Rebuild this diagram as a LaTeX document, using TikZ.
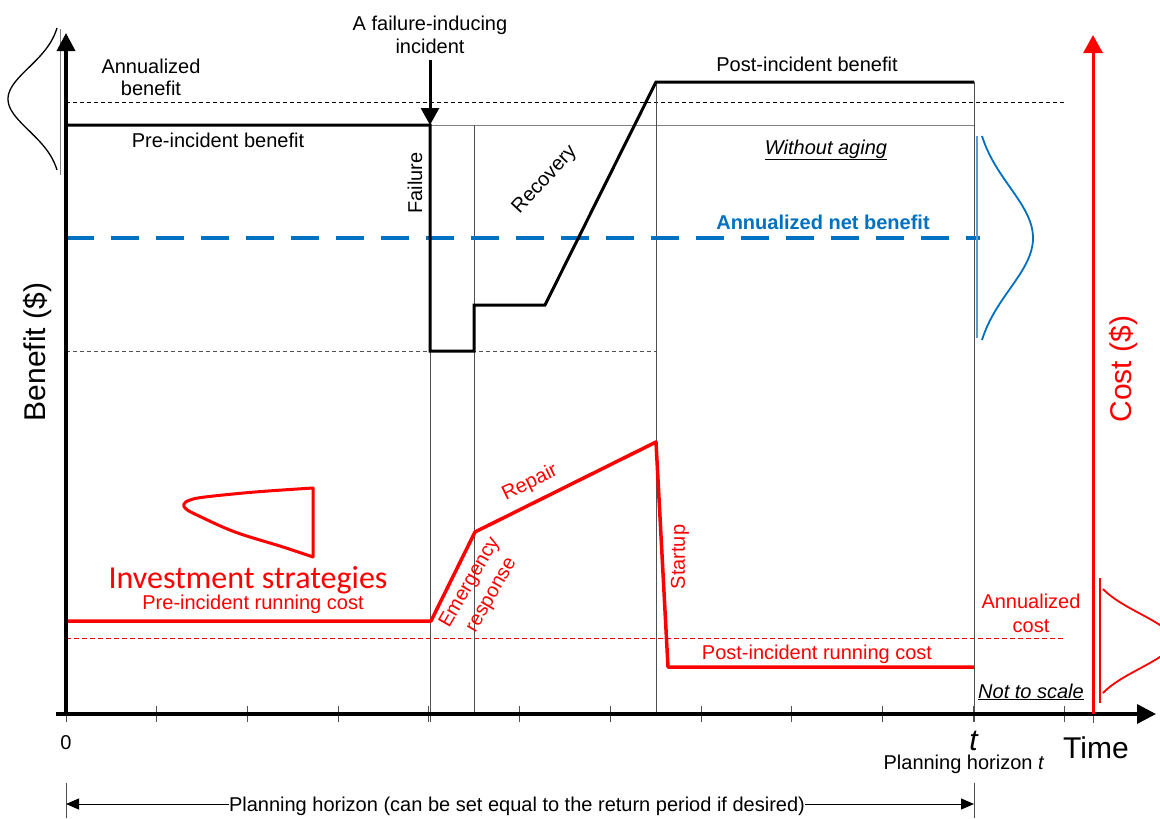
\documentclass[tikz,border=0pt]{standalone}
\usepackage{fontspec}
\setmainfont{Liberation Sans}
\newfontfamily\calibrifont{Carlito}
\usetikzlibrary{arrows.meta}
\definecolor{netblue}{HTML}{0070C0}
\definecolor{paleblue}{HTML}{5B9BD5}
\definecolor{guidegray}{HTML}{505050}

\begin{document}
\begin{tikzpicture}[x=1pt,y=-1pt,
  lbl/.style={font=\fontsize{20}{23}\selectfont, inner sep=0pt, align=center},
  big/.style={font=\fontsize{30}{34}\selectfont, inner sep=0pt},
  guide/.style={line width=0.9pt, draw=guidegray},
  tickmark/.style={line width=1pt, draw=guidegray},
  benefitline/.style={line width=3pt, line join=miter},
  costline/.style={line width=3.5pt, draw=red, line join=round},
  axisline/.style={line width=3.5pt},
  bigtip/.style={-{Triangle[length=18pt,width=18pt]}},
]
\useasboundingbox (0,0) rectangle (1160,819);
\clip (0,0) rectangle (1160,819);

% ---------- reference levels ----------
\draw[line width=0.8pt, dash pattern=on 4pt off 3pt] (66,102) -- (1065,102);
\draw[line width=0.8pt, draw=guidegray, dash pattern=on 4pt off 3pt] (66,351) -- (656,351);
\draw[line width=0.9pt, draw=red, dash pattern=on 5pt off 3pt] (66,638) -- (1065,638);
\draw[line width=1pt, draw=gray] (430,125) -- (974,125);

% ---------- phase boundaries ----------
\draw[guide] (430,125) -- (430,722);
\draw[guide] (474,125) -- (474,714);
\draw[guide] (656,82) -- (656,714);
\draw[guide] (974,82) -- (974,722);

% ---------- ticks on the time axis ----------
\foreach \k in {0,...,11}
  \draw[tickmark] ({66+90.73*\k},706) -- ({66+90.73*\k},722);
\draw[tickmark] (1093,706) -- (1093,723);

% ---------- annualized net benefit ----------
\draw[netblue, line width=3.5pt, dash pattern=on 28pt off 17pt] (66,238) -- (980,238);

% ---------- benefit path ----------
\coordinate (b0) at (66,125);
\coordinate (bfail) at (430,125);
\coordinate (blow) at (430,351);
\coordinate (bemr) at (474,351);
\coordinate (bstep) at (474,305);
\coordinate (bflat) at (545,305);
\coordinate (bpeak) at (656,82);
\coordinate (bend) at (974,82);
\draw[benefitline] (b0) -- (bfail) -- (blow) -- (bemr) -- (bstep) -- (bflat) -- (bpeak) -- (bend);

% ---------- cost path ----------
\coordinate (c0) at (66,621);
\coordinate (cfail) at (431,621);
\coordinate (cemr) at (475,532);
\coordinate (cpeak) at (656,442);
\coordinate (cstart) at (668,667);
\coordinate (cend) at (974,667);
\draw[costline] (c0) -- (cfail) -- (cemr) -- (cpeak) -- (cstart) -- (cend);

% ---------- distributions ----------
% benefit distribution at the left axis
\draw[line width=1pt, draw=gray] (60,29) -- (60,175);
\draw[line width=1.3pt] plot[domain=-71:71, samples=70, smooth]
  ({57-49*(exp(-(\x*\x)/2000)-0.08)/0.92}, {99+\x});
% net benefit distribution
\draw[line width=1.5pt, draw=paleblue] (977,136) -- (977,338);
\draw[line width=1.8pt, draw=netblue] plot[domain=-102:102, samples=80, smooth]
  ({982+51*(exp(-(\x*\x)/5200)-0.135)/0.865}, {238+\x});
% cost distribution
\draw[line width=1.2pt, draw=red] (1100,578) -- (1100,703);
\draw[line width=1.8pt, draw=red] plot[domain=-52:52, samples=60, smooth]
  ({1103+70*(exp(-(\x*\x)/1500)-0.165)/0.835}, {641+\x});
% investment strategy distribution
\draw[line width=3pt, draw=red, line join=round]
  plot[smooth, tension=0.6] coordinates {(313,557) (283,547) (235,532) (199,516) (186,509) (184,504) (190,500) (205,497) (255,492) (313,488)} -- cycle;

% ---------- axes ----------
\coordinate (origin) at (66,714);
\coordinate (ytop) at (66,33);
\coordinate (xleft) at (56,714);
\coordinate (xright) at (1156,714);
\coordinate (cbot) at (1093,714);
\coordinate (ctop) at (1093,35);
\draw[axisline, bigtip] (66,716) -- (ytop);
\draw[axisline, -{Triangle[length=19pt,width=19pt]}] (xleft) -- (xright);
\draw[line width=3pt, draw=red, -{Triangle[length=18pt,width=19pt]}, red] (cbot) -- (ctop);

% ---------- incident arrow ----------
\node[lbl, anchor=north] (incident) at (430,15.5) {A failure-inducing\\incident};
\draw[line width=3pt, -{Triangle[length=17pt,width=18pt]}] (430,60) -- (bfail);

% ---------- benefit labels ----------
\node[lbl, anchor=north] (annben) at (151,58.5) {Annualized\\[-1pt]benefit};
\node[lbl, anchor=base] (preben) at (218,147) {Pre-incident benefit};
\node[lbl, anchor=base] (postben) at (807,71) {Post-incident benefit};
\node[lbl, anchor=base] (noaging) at (826,154) {\underline{\textit{Without aging}}};
\node[lbl, anchor=center, rotate=90] (failure) at (415,183) {Failure};
\node[lbl, anchor=center, rotate=47] (recovery) at (545,180) {Recovery};
\node[lbl, anchor=base, text=netblue, font=\fontsize{20}{23}\selectfont\bfseries] (netben) at (823,229) {Annualized net benefit};

% ---------- cost labels ----------
\node[anchor=base, inner sep=0pt, text=red, font=\fontsize{32}{36}\selectfont\calibrifont] (strategies) at (248,588) {Investment strategies};
\node[lbl, anchor=base, text=red] (prerun) at (253,609) {Pre-incident running cost};
\node[lbl, anchor=center, rotate=60, text=red, font=\fontsize{20}{25}\selectfont] (emergency) at (481,589) {Emergency\\response};
\node[lbl, anchor=center, rotate=26, text=red] (repair) at (530,483) {Repair};
\node[lbl, anchor=center, rotate=90, text=red] (startup) at (680,557) {Startup};
\node[lbl, anchor=base, text=red] (postrun) at (817,659) {Post-incident running cost};
\node[lbl, anchor=north, text=red, font=\fontsize{20}{24}\selectfont] (anncost) at (1031,593.5) {Annualized\\cost};
\node[lbl, anchor=base] (scale) at (1031,698) {\underline{\textit{Not to scale}}};

% ---------- axis labels ----------
\node[big, anchor=center, rotate=90] (benefitaxis) at (38,352) {Benefit (\$)};
\node[big, anchor=center, rotate=90, text=red] (costaxis) at (1123,369) {Cost (\$)};
\node[big, anchor=base] (timeaxis) at (1096,758) {Time};
\node[big, anchor=base] (tlabel) at (974,750) {\textit{t}};
\node[lbl, anchor=base] (zero) at (66,749) {0};
\node[lbl, anchor=base] (horizon) at (964,769) {Planning horizon \textit{t}};

% ---------- planning horizon span ----------
\coordinate (phL) at (66,804);
\coordinate (phR) at (974,804);
\draw[tickmark] (66,783) -- (66,818);
\draw[tickmark] (974,783) -- (974,818);
\node[lbl, anchor=base, fill=white] (phtext) at (517,811) {Planning horizon (can be set equal to the return period if desired)};
\draw[line width=1pt, -{Triangle[length=13pt,width=11pt]}] (phtext.west |- phL) -- (phL);
\draw[line width=1pt, -{Triangle[length=13pt,width=11pt]}] (phtext.east |- phR) -- (phR);
\end{tikzpicture}
\end{document}
